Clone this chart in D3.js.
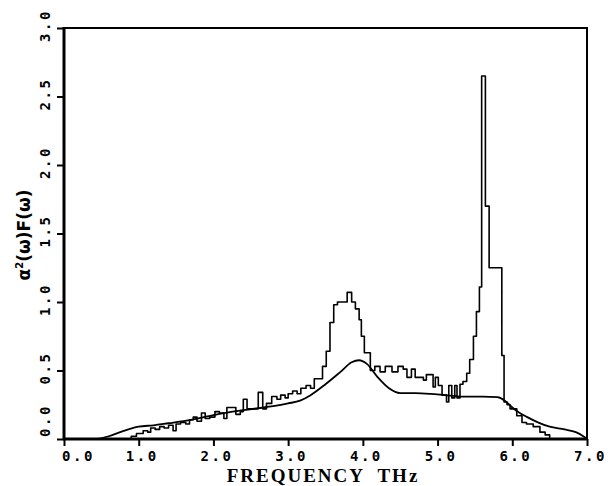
<!DOCTYPE html>
<html>
<head>
<meta charset="utf-8">
<script src="https://cdnjs.cloudflare.com/ajax/libs/d3/7.8.5/d3.min.js"></script>
<style>
  body { margin: 0; background: #fff; }
  svg { display: block; }
</style>
</head>
<body>
<div id="chart"></div>
<script>
var w = 608, h = 486;

// histogram: left edge of each step (THz) and its height
var histFreq = [0.00, 0.90, 0.97, 1.06, 1.12, 1.16, 1.22, 1.28, 1.34, 1.40, 1.46, 1.50, 1.56, 1.63, 1.68,
  1.73, 1.78, 1.84, 1.89, 1.95, 2.02, 2.08, 2.14, 2.18, 2.30, 2.36, 2.40, 2.45, 2.60, 2.66, 2.71,
  2.78, 2.85, 2.90, 2.96, 3.00, 3.06, 3.12, 3.17, 3.24, 3.30, 3.35, 3.46, 3.51, 3.56, 3.61, 3.66,
  3.79, 3.85, 3.90, 3.95, 3.98, 4.02, 4.10, 4.16, 4.23, 4.30, 4.39, 4.47, 4.54, 4.59, 4.65, 4.70,
  4.81, 4.85, 4.94, 4.97, 5.01, 5.06, 5.12, 5.15, 5.19, 5.23, 5.26, 5.30, 5.34, 5.39, 5.43, 5.48,
  5.52, 5.56, 5.59, 5.64, 5.69, 5.86, 5.89, 5.93, 5.97, 6.06, 6.13, 6.19, 6.28, 6.37, 6.44, 6.50];
var histVal = [0.00, 0.02, 0.04, 0.06, 0.05, 0.08, 0.07, 0.09, 0.08, 0.10, 0.06, 0.11, 0.12, 0.11, 0.14,
  0.16, 0.13, 0.19, 0.15, 0.16, 0.20, 0.19, 0.15, 0.23, 0.18, 0.20, 0.29, 0.22, 0.34, 0.22, 0.26,
  0.31, 0.29, 0.32, 0.30, 0.33, 0.35, 0.33, 0.37, 0.39, 0.37, 0.44, 0.53, 0.64, 0.85, 0.98, 1.00,
  1.07, 1.00, 0.95, 0.87, 0.75, 0.63, 0.50, 0.53, 0.49, 0.53, 0.49, 0.53, 0.51, 0.45, 0.51, 0.45,
  0.43, 0.47, 0.38, 0.45, 0.39, 0.32, 0.27, 0.39, 0.30, 0.39, 0.30, 0.40, 0.42, 0.48, 0.58, 0.75,
  0.93, 1.11, 2.65, 1.70, 1.25, 0.61, 0.27, 0.25, 0.22, 0.17, 0.12, 0.11, 0.09, 0.05, 0.03, 0.00];

// smooth (calculated) curve
var smoothFreq = [0.45, 0.60, 0.80, 1.00, 1.20, 1.40, 1.60, 1.80, 2.00, 2.20, 2.40, 2.60, 2.80, 3.00,
  3.16, 3.30, 3.50, 3.70, 3.85, 3.95, 4.05, 4.20, 4.35, 4.50, 4.70, 4.90, 5.10, 5.30, 5.60, 5.80,
  5.90, 6.00, 6.10, 6.20, 6.35, 6.50, 6.70, 6.85, 6.95, 7.00];
var smoothVal = [0.00, 0.02, 0.06, 0.09, 0.10, 0.115, 0.13, 0.15, 0.175, 0.195, 0.21, 0.225, 0.24, 0.26,
  0.28, 0.32, 0.40, 0.49, 0.56, 0.575, 0.55, 0.45, 0.37, 0.335, 0.335, 0.33, 0.32, 0.31, 0.31, 0.305,
  0.28, 0.23, 0.19, 0.16, 0.12, 0.09, 0.07, 0.05, 0.02, 0.00];

var xTicks = [0, 1, 2, 3, 4, 5, 6, 7];
var yTicks = [0, 0.5, 1, 1.5, 2, 2.5, 3];

var plotL = 64, plotR = 587, plotT = 28, plotB = 439;

var svg = d3.select('#chart').append('svg')
  .attr('width', w)
  .attr('height', h);

var x = d3.scaleLinear().domain([0, 7]).range([plotL, plotR]);
var y = d3.scaleLinear().domain([0, 3]).range([plotB, plotT]);

// frame
svg.append('rect')
  .attr('x', plotL).attr('y', plotT)
  .attr('width', plotR - plotL).attr('height', plotB - plotT)
  .attr('fill', 'none').attr('stroke', '#000').attr('stroke-width', 2);
svg.append('line').attr('x1', plotL).attr('x2', plotL).attr('y1', plotT - 1).attr('y2', plotB + 1)
  .attr('stroke', '#000').attr('stroke-width', 3);
svg.append('line').attr('x1', plotL - 1).attr('x2', plotR + 1).attr('y1', plotB).attr('y2', plotB)
  .attr('stroke', '#000').attr('stroke-width', 3);

// axes
var xAxis = svg.append('g')
  .attr('transform', 'translate(0,' + plotB + ')')
  .call(d3.axisBottom(x).tickValues(xTicks).tickSize(7).tickSizeOuter(0).tickFormat(d3.format('.1f')));
xAxis.select('.domain').remove();
xAxis.selectAll('.tick line').attr('stroke-width', 2);
xAxis.selectAll('.tick text')
  .attr('y', 12)
  .attr('dx', function(d) { return d == 0 ? 14 : 3; })
  .style('font-family', '"DejaVu Sans Mono", monospace')
  .style('font-weight', 'bold')
  .style('font-size', '14px')
  .style('letter-spacing', '2.5px');

var yAxis = svg.append('g')
  .attr('transform', 'translate(' + plotL + ',0)')
  .call(d3.axisLeft(y).tickValues(yTicks).tickSize(7).tickSizeOuter(0).tickFormat(d3.format('.1f')));
yAxis.select('.domain').remove();
yAxis.selectAll('.tick line').attr('stroke-width', 2);
yAxis.selectAll('.tick text')
  .attr('x', null).attr('dy', null)
  .attr('transform', function(d) { return 'translate(-14,' + (d == 0 ? -19 : -3) + ') rotate(-90)'; })
  .attr('text-anchor', 'middle')
  .style('font-family', '"DejaVu Sans Mono", monospace')
  .style('font-weight', 'bold')
  .style('font-size', '14px')
  .style('letter-spacing', '2.5px');

// curves
var line = d3.line()
  .x(function(d) { return x(d[0]); })
  .y(function(d) { return y(d[1]); });

var histData = histFreq.map(function(f, i) { return [f, histVal[i]]; });
var smoothData = smoothFreq.map(function(f, i) { return [f, smoothVal[i]]; });

svg.append('path')
  .datum(histData)
  .attr('d', line.curve(d3.curveStepAfter))
  .attr('fill', 'none').attr('stroke', '#000').attr('stroke-width', 1.6)
  .attr('stroke-linejoin', 'round');

svg.append('path')
  .datum(smoothData)
  .attr('d', line.curve(d3.curveMonotoneX))
  .attr('fill', 'none').attr('stroke', '#000').attr('stroke-width', 1.8);

// titles
svg.append('text')
  .attr('x', 323).attr('y', 482)
  .attr('text-anchor', 'middle')
  .style('font-family', '"Liberation Serif", serif')
  .style('font-weight', 'bold')
  .style('font-size', '19px')
  .style('letter-spacing', '2px')
  .style('white-space', 'pre')
  .text('FREQUENCY  THz');

var yt = svg.append('text')
  .attr('transform', 'translate(30,235) rotate(-90)')
  .attr('text-anchor', 'middle')
  .style('font-family', '"DejaVu Sans", sans-serif')
  .style('font-weight', 'bold')
  .style('font-size', '17px');
yt.append('tspan').text('α');
yt.append('tspan').attr('dy', -7).style('font-size', '10px').text('2');
yt.append('tspan').attr('dy', 7).text('(ω)F(ω)');
</script>
</body>
</html>
